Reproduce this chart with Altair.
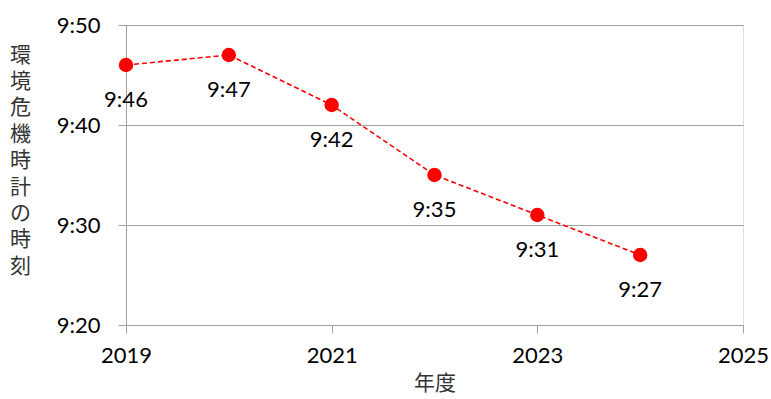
import altair as alt
import pandas as pd

# Doomsday-clock style readings per fiscal year (minutes after 9 o'clock)
years = [2019, 2020, 2021, 2022, 2023, 2024]
minutes = [46, 47, 42, 35, 31, 27]
labels = ["9:46", "9:47", "9:42", "9:35", "9:31", "9:27"]

x_ticks = [2019, 2021, 2023, 2025]
y_ticks = [20, 30, 40, 50]

df = pd.DataFrame({"year": years, "minute": minutes, "label": labels})

num_font = "Lato"
jp_font = "Noto Sans CJK JP"
red = "#ff0000"
grey = "#a0a0a0"

x_enc = alt.X(
    "year:Q",
    scale=alt.Scale(domain=[2019, 2025], nice=False, zero=False),
    axis=alt.Axis(
        values=x_ticks, format="d", title="年度", grid=False,
        domainColor=grey, tickColor=grey, tickSize=8,
        labelFont=num_font, labelFontSize=22, labelColor="#000",
        labelPadding=12, labelFlush=False,
        titleFont=jp_font, titleFontSize=21, titleFontWeight="normal",
        titleColor="#333", titlePadding=6,
    ),
)
y_enc = alt.Y(
    "minute:Q",
    scale=alt.Scale(domain=[20, 50], nice=False, zero=False),
    axis=alt.Axis(
        values=y_ticks, labelExpr="'9:' + datum.value",
        title=["環", "境", "危", "機", "時", "計", "の", "時", "刻"],
        grid=True, gridColor=grey, domainColor=grey, tickColor=grey, tickSize=8,
        labelFont=num_font, labelFontSize=22, labelColor="#000", labelPadding=18,
        titleFont=jp_font, titleFontSize=21, titleFontWeight="normal",
        titleColor="#333", titleAngle=0, titleAlign="center",
        titleBaseline="top", titleX=-106, titleY=19, titleLineHeight=26.4,
    ),
)

base = alt.Chart(df).encode(x=x_enc, y=y_enc)

line = base.mark_line(color=red, strokeWidth=1.6, strokeDash=[5, 3])
points = base.mark_circle(color=red, size=210, opacity=1)
text = base.mark_text(
    font=num_font, fontSize=22, color="#000", dy=35, baseline="middle"
).encode(text="label:N")

chart = (
    alt.layer(line, points, text)
    .properties(
        width=617, height=300,
        padding={"left": 126, "top": 25, "right": 28, "bottom": 74},
        autosize=alt.AutoSizeParams(type="none"),
    )
    .configure_view(stroke=None)
    .configure(background="#ffffff")
)

chart.save("out.html", embed_options={"renderer": "svg", "actions": False})
